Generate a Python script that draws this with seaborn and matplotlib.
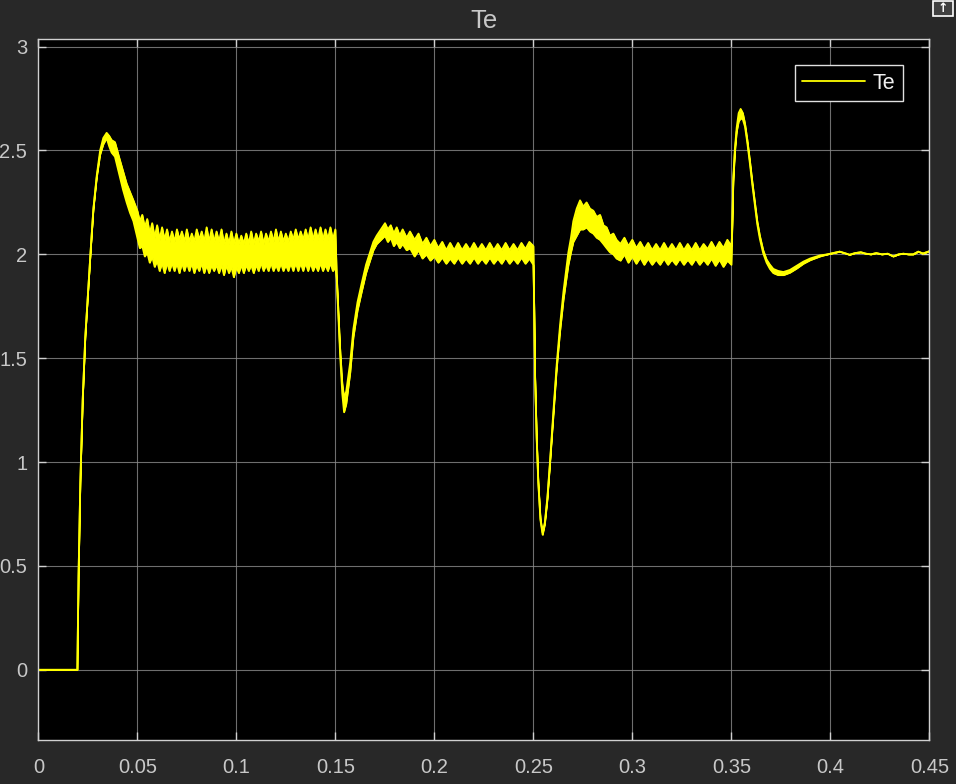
import numpy as np
import pandas as pd
import seaborn as sns
import matplotlib.pyplot as plt
from matplotlib.patches import Rectangle

# ---- data (time in s, torque Te) ----
# start-up: zero, then rise to first overshoot
t_start = [0.0, 0.0197, 0.0203, 0.0212, 0.0224, 0.0237, 0.0253, 0.0265, 0.0278, 0.0295,
           0.0312, 0.0328, 0.0345, 0.0358, 0.037, 0.0387, 0.041, 0.0428, 0.0446, 0.0463, 0.048]
hi_start = [0, 0, 0.45, 0.9, 1.3, 1.6, 1.85, 2.03, 2.22, 2.38,
            2.50, 2.56, 2.585, 2.57, 2.55, 2.54, 2.46, 2.40, 2.34, 2.30, 2.26]
lo_start = [0, 0, 0.45, 0.9, 1.3, 1.6, 1.85, 2.03, 2.215, 2.37,
            2.48, 2.53, 2.56, 2.52, 2.49, 2.47, 2.38, 2.31, 2.25, 2.20, 2.16]

# ripple band 0.05 .. 0.15
t_band1 = [0.05, 0.05125, 0.0525, 0.05375, 0.055, 0.05625, 0.0575, 0.05875, 0.06, 0.06125,
           0.0625, 0.06375, 0.065, 0.06625, 0.0675, 0.06875, 0.07, 0.07125, 0.0725, 0.07375,
           0.075, 0.07625, 0.0775, 0.07875, 0.08, 0.08125, 0.0825, 0.08375, 0.085, 0.08625,
           0.0875, 0.08875, 0.09, 0.09125, 0.0925, 0.09375, 0.095, 0.09625, 0.0975, 0.09875,
           0.1, 0.10125, 0.1025, 0.10375, 0.105, 0.10625, 0.1075, 0.10875, 0.11, 0.11125,
           0.1125, 0.11375, 0.115, 0.11625, 0.1175, 0.11875, 0.12, 0.12125, 0.1225, 0.12375,
           0.125, 0.12625, 0.1275, 0.12875, 0.13, 0.13125, 0.1325, 0.13375, 0.135, 0.13625,
           0.1375, 0.13875, 0.14, 0.14125, 0.1425, 0.14375, 0.145, 0.14625, 0.1475, 0.14875, 0.15]
hi_band1 = [2.21, 2.16, 2.19, 2.13, 2.17, 2.10, 2.15, 2.08, 2.14, 2.07,
            2.13, 2.07, 2.12, 2.06, 2.11, 2.06, 2.12, 2.07, 2.11, 2.06,
            2.12, 2.06, 2.10, 2.06, 2.12, 2.07, 2.11, 2.06, 2.13, 2.06,
            2.12, 2.06, 2.11, 2.06, 2.12, 2.05, 2.10, 2.05, 2.11, 2.05,
            2.10, 2.05, 2.09, 2.05, 2.10, 2.05, 2.11, 2.05, 2.10, 2.06,
            2.11, 2.05, 2.10, 2.06, 2.11, 2.06, 2.12, 2.06, 2.11, 2.06,
            2.10, 2.06, 2.11, 2.07, 2.12, 2.07, 2.11, 2.07, 2.12, 2.07,
            2.13, 2.07, 2.12, 2.07, 2.13, 2.07, 2.12, 2.07, 2.13, 2.07, 2.12]
lo_band1 = [2.08, 2.03, 2.04, 1.99, 2.01, 1.96, 1.99, 1.94, 1.97, 1.92,
            1.96, 1.91, 1.96, 1.92, 1.96, 1.92, 1.96, 1.91, 1.96, 1.92,
            1.96, 1.92, 1.96, 1.91, 1.95, 1.92, 1.96, 1.91, 1.95, 1.91,
            1.95, 1.92, 1.95, 1.91, 1.95, 1.90, 1.95, 1.91, 1.94, 1.89,
            1.94, 1.91, 1.95, 1.91, 1.95, 1.92, 1.95, 1.91, 1.95, 1.92,
            1.96, 1.92, 1.95, 1.92, 1.96, 1.92, 1.95, 1.92, 1.96, 1.92,
            1.95, 1.92, 1.96, 1.92, 1.96, 1.92, 1.96, 1.92, 1.96, 1.92,
            1.96, 1.92, 1.95, 1.92, 1.96, 1.92, 1.95, 1.92, 1.96, 1.92, 1.94]

# first load step (dip at 0.15)
t_dip1 = [0.1507, 0.1524, 0.1535, 0.1544, 0.1555, 0.1575, 0.1591, 0.1612, 0.1633, 0.1655,
          0.1675, 0.1692, 0.1709, 0.173, 0.1751, 0.1765, 0.178, 0.1795, 0.181, 0.1825,
          0.184, 0.186, 0.1877]
hi_dip1 = [1.90, 1.55, 1.38, 1.31, 1.34, 1.48, 1.64, 1.77, 1.86, 1.95,
           2.01, 2.06, 2.09, 2.12, 2.15, 2.12, 2.14, 2.10, 2.13, 2.09,
           2.12, 2.08, 2.11]
lo_dip1 = [1.88, 1.52, 1.33, 1.24, 1.28, 1.43, 1.60, 1.73, 1.82, 1.91,
           1.97, 2.02, 2.05, 2.07, 2.09, 2.06, 2.08, 2.04, 2.06, 2.03,
           2.05, 2.02, 2.03]

# ripple band 0.19 .. 0.25
t_band2 = [0.19, 0.192, 0.194, 0.196, 0.198, 0.2, 0.202, 0.204, 0.206, 0.208,
           0.21, 0.212, 0.214, 0.216, 0.218, 0.22, 0.222, 0.224, 0.226, 0.228,
           0.23, 0.232, 0.234, 0.236, 0.238, 0.24, 0.242, 0.244, 0.246, 0.248, 0.25]
hi_band2 = [2.07, 2.10, 2.05, 2.08, 2.04, 2.07, 2.03, 2.06, 2.02, 2.055,
            2.02, 2.055, 2.02, 2.05, 2.02, 2.055, 2.02, 2.05, 2.02, 2.055,
            2.02, 2.05, 2.02, 2.055, 2.02, 2.05, 2.02, 2.055, 2.025, 2.06, 2.04]
lo_band2 = [1.99, 2.02, 1.98, 2.00, 1.97, 1.99, 1.96, 1.985, 1.955, 1.98,
            1.955, 1.985, 1.955, 1.98, 1.955, 1.985, 1.955, 1.98, 1.955, 1.985,
            1.955, 1.98, 1.955, 1.985, 1.955, 1.98, 1.955, 1.985, 1.955, 1.98, 1.95]

# second load step (deep dip at 0.25)
t_dip2 = [0.2503, 0.2509, 0.2517, 0.2525, 0.2536, 0.2547, 0.2558, 0.2571, 0.2584, 0.2601,
          0.2618, 0.2635, 0.2652, 0.2665, 0.2677, 0.269, 0.2702, 0.2719, 0.2736, 0.2752,
          0.2769, 0.2786, 0.2803, 0.282, 0.2837, 0.2854, 0.287, 0.2887, 0.2904, 0.292]
hi_dip2 = [1.84, 1.41, 1.12, 0.91, 0.73, 0.66, 0.71, 0.83, 1.00, 1.24,
           1.47, 1.66, 1.82, 1.92, 2.01, 2.08, 2.16, 2.22, 2.26, 2.23,
           2.25, 2.22, 2.21, 2.18, 2.19, 2.14, 2.13, 2.09, 2.10, 2.07]
lo_dip2 = [1.83, 1.40, 1.11, 0.90, 0.72, 0.65, 0.70, 0.82, 0.99, 1.22,
           1.45, 1.63, 1.78, 1.87, 1.95, 2.01, 2.06, 2.09, 2.12, 2.12,
           2.13, 2.11, 2.10, 2.08, 2.07, 2.05, 2.03, 2.01, 2.00, 1.98]

# ripple band 0.294 .. 0.35
t_band3 = [0.294, 0.296, 0.298, 0.3, 0.302, 0.304, 0.306, 0.308, 0.31, 0.312,
           0.314, 0.316, 0.318, 0.32, 0.322, 0.324, 0.326, 0.328, 0.33, 0.332,
           0.334, 0.336, 0.338, 0.34, 0.342, 0.344, 0.346, 0.348, 0.35]
hi_band3 = [2.05, 2.08, 2.04, 2.07, 2.03, 2.06, 2.025, 2.055, 2.02, 2.05,
            2.02, 2.055, 2.02, 2.05, 2.02, 2.055, 2.02, 2.05, 2.02, 2.055,
            2.02, 2.05, 2.025, 2.06, 2.025, 2.06, 2.03, 2.07, 2.04]
lo_band3 = [1.97, 2.00, 1.96, 1.99, 1.955, 1.985, 1.95, 1.98, 1.95, 1.975,
            1.95, 1.98, 1.95, 1.975, 1.95, 1.98, 1.95, 1.975, 1.95, 1.98,
            1.95, 1.975, 1.95, 1.98, 1.945, 1.975, 1.94, 1.97, 1.95]

# load removal overshoot at 0.35
t_peak3 = [0.3503, 0.351, 0.3518, 0.3527, 0.3537, 0.3547, 0.3558, 0.3569, 0.3581, 0.3594,
           0.3606, 0.3619, 0.3631, 0.3644, 0.3661, 0.3678, 0.3695, 0.3712, 0.3737, 0.3763,
           0.3796, 0.383, 0.3864, 0.3898, 0.3948]
hi_peak3 = [2.08, 2.37, 2.51, 2.61, 2.68, 2.70, 2.68, 2.63, 2.55, 2.45,
            2.35, 2.25, 2.16, 2.09, 2.02, 1.975, 1.95, 1.93, 1.92, 1.915,
            1.925, 1.945, 1.965, 1.98, 1.995]
lo_peak3 = [2.06, 2.35, 2.49, 2.59, 2.64, 2.655, 2.65, 2.615, 2.535, 2.435,
            2.335, 2.235, 2.145, 2.075, 2.005, 1.96, 1.93, 1.91, 1.90, 1.90,
            1.912, 1.932, 1.955, 1.972, 1.99]

# settled tail
t_tail = [0.3986, 0.4015, 0.4047, 0.4075, 0.4097, 0.4125, 0.4154, 0.418, 0.4205, 0.4232,
          0.426, 0.429, 0.4318, 0.4345, 0.4369, 0.4395, 0.4419, 0.4444, 0.4468, 0.45]
te_tail = [2.0, 2.006, 2.013, 2.005, 1.998, 2.006, 2.01, 2.003, 2.0, 2.006,
           2.0, 2.003, 1.99, 2.0, 2.003, 2.0, 2.0, 2.013, 2.004, 2.015]

x_ticks = [0, 0.05, 0.1, 0.15, 0.2, 0.25, 0.3, 0.35, 0.4, 0.45]
x_labels = ['0', '0.05', '0.1', '0.15', '0.2', '0.25', '0.3', '0.35', '0.4', '0.45']
y_ticks = [0, 0.5, 1, 1.5, 2, 2.5, 3]
y_labels = ['0', '0.5', '1', '1.5', '2', '2.5', '3']

df = pd.DataFrame({
    't': np.concatenate([t_start, t_band1, t_dip1, t_band2, t_dip2, t_band3, t_peak3, t_tail]),
    'hi': np.concatenate([hi_start, hi_band1, hi_dip1, hi_band2, hi_dip2, hi_band3, hi_peak3, te_tail]),
    'lo': np.concatenate([lo_start, lo_band1, lo_dip1, lo_band2, lo_dip2, lo_band3, lo_peak3, te_tail]),
})

# ---- style: Simulink scope look ----
bg = '#282828'
fg = '#c8c8c8'
sns.set_style('dark', {'axes.facecolor': 'black', 'figure.facecolor': bg})
plt.rcParams['font.family'] = ['Liberation Sans', 'DejaVu Sans']

fig = plt.figure(figsize=(9.56, 7.84), dpi=100, facecolor=bg)
ax = fig.add_axes([0.0401, 0.0561, 0.9320, 0.8945])
ax.set_facecolor('black')

yellow = '#ffff00'
ax.fill_between(df['t'], df['lo'], df['hi'], color=yellow, linewidth=0.6)
sns.lineplot(data=df, x='t', y='hi', ax=ax, color=yellow, linewidth=1.3,
             estimator=None, label='Te')
sns.lineplot(data=df, x='t', y='lo', ax=ax, color=yellow, linewidth=1.3,
             estimator=None, legend=False)

ax.set_xlim(0, 0.45)
ax.set_ylim(-0.338, 3.038)
ax.set_xticks(x_ticks)
ax.set_xticklabels(x_labels)
ax.set_yticks(y_ticks)
ax.set_yticklabels(y_labels)
ax.set_xlabel('')
ax.set_ylabel('')

ax.grid(True, color='#8a8a8a', linewidth=0.8, alpha=0.8)
for s in ax.spines.values():
    s.set_visible(True)
    s.set_color('#d0d0d0')
    s.set_linewidth(1.0)
ax.tick_params(axis='both', which='both', direction='in', length=6, width=1,
               colors='#d0d0d0', labelcolor=fg, labelsize=14.5,
               top=True, right=True, bottom=True, left=True)
ax.tick_params(axis='x', pad=13)
ax.tick_params(axis='y', pad=8)

ax.set_title('Te', color=fg, fontsize=18.5, pad=8)

leg = ax.legend(loc='upper right', bbox_to_anchor=(0.970, 0.9625), borderaxespad=0,
                frameon=True, fancybox=False, facecolor='black', edgecolor='#e0e0e0',
                fontsize=15.5, handlelength=2.9, handletextpad=0.35, borderpad=0.35,
                framealpha=1)
for txt in leg.get_texts():
    txt.set_color('#f0f0f0')

# small undock button at the top right
fig.patches.append(Rectangle((0.9755, 0.979), 0.021, 0.02, transform=fig.transFigure,
                             facecolor='#404040', edgecolor='white', linewidth=1.2))
fig.text(0.986, 0.989, '↑', color='white', fontsize=9, ha='center', va='center',
         family='DejaVu Sans', fontweight='bold')

fig.savefig('out.png', dpi=100, facecolor=bg)
